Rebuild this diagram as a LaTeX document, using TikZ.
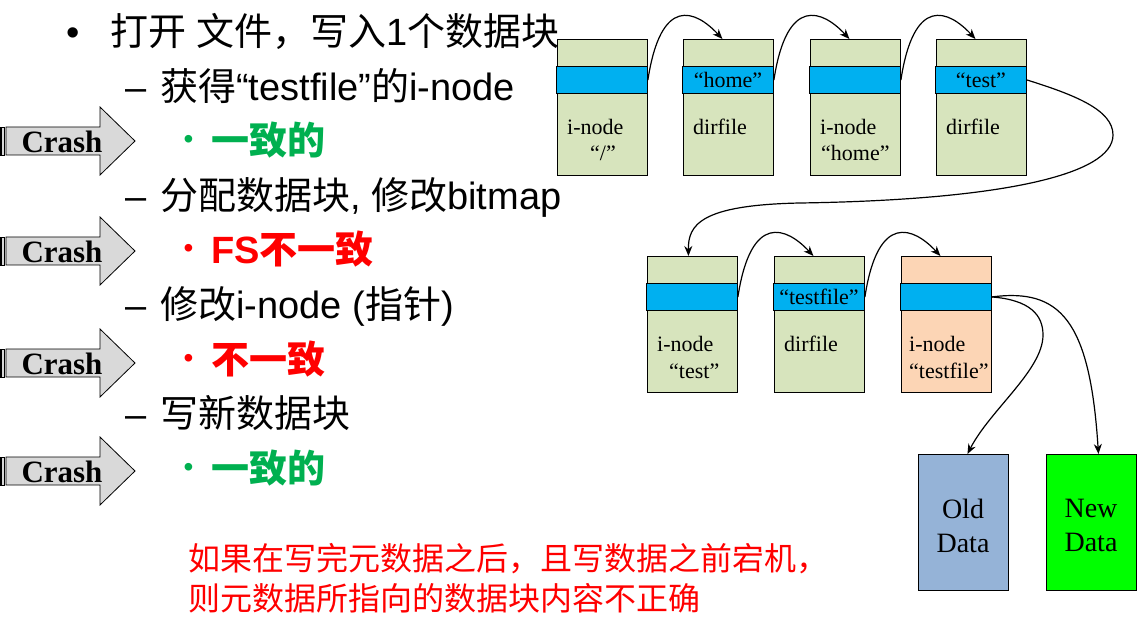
\documentclass[tikz,border=0pt]{standalone}
\usepackage{fontspec}
\setmainfont{Liberation Sans}
\newfontfamily\cjk{Noto Sans CJK SC}
\newfontfamily\tms{Liberation Serif}
\usetikzlibrary{arrows.meta}
\definecolor{blockgreen}{HTML}{D7E4BD}
\definecolor{stripblue}{HTML}{00B0F0}
\definecolor{inodeorange}{HTML}{FCD5B5}
\definecolor{olddata}{HTML}{95B3D7}
\definecolor{newdata}{HTML}{00FF00}
\definecolor{okgreen}{HTML}{00B050}
\definecolor{badred}{HTML}{FF0000}
\definecolor{crashgray}{HTML}{D9D9D9}
\begin{document}
\begin{tikzpicture}[x=1pt,y=-1pt,
  txt/.style={anchor=base west, inner sep=0pt, font=\fontsize{38}{44}\selectfont},
  smallbullet/.style={anchor=base west, inner sep=0pt, font=\fontsize{28}{30}\selectfont},
  blk/.style={draw=black, line width=0.9pt, fill=blockgreen, minimum width=90pt, minimum height=136pt, inner sep=0pt, anchor=north west},
  strip/.style={draw=black, line width=0.9pt, fill=stripblue, minimum width=91pt, minimum height=27pt, inner sep=0pt, anchor=north west, font=\tms\fontsize{22}{26}\selectfont},
  blbl/.style={anchor=base west, inner sep=0pt, font=\tms\fontsize{22}{26}\selectfont},
  datablk/.style={draw=black, line width=0.9pt, minimum width=90pt, minimum height=136pt, inner sep=0pt, anchor=north west},
  datalbl/.style={align=center, inner sep=0pt, font=\tms\fontsize{28}{34}\selectfont},
  conn/.style={line width=1.2pt, -{Stealth[length=10pt,width=8pt]}},
  crashbody/.style={fill=crashgray, draw=black, line width=0.8pt},
  crashtxt/.style={inner sep=0pt, font=\tms\bfseries\fontsize{31}{34}\selectfont},
  redtxt/.style={anchor=base west, inner sep=0pt, text=badred, font=\cjk\fontsize{32}{40}\selectfont}
]
\useasboundingbox (0,0) rectangle (1143,620);

% ---------- Crash arrows ----------
\foreach \c/\n in {141/1,251/2,363/3,471/4}{
  \path[crashbody] (-3,{\c-14}) rectangle (0,{\c+14});
  \path[crashbody] (1.5,{\c-14}) rectangle (4.5,{\c+14});
  \path[crashbody] (6,{\c-14}) -- (100,{\c-14}) -- (100,{\c-34}) -- (135,\c)
     -- (100,{\c+34}) -- (100,{\c+14}) -- (6,{\c+14}) -- cycle;
  \node[crashtxt] (crash\n) at (62,{\c+1}) {Crash};
}

% ---------- Left text ----------
\node[txt] (bu1) at (66.5,46) {•};
\node[txt] (t1) at (110,46) {{\cjk 打开} {\cjk 文件，写入}1{\cjk 个数据块}};

\node[txt] (d2) at (125,100.5) {–};
\node[txt] (t2) at (160,100.5) {{\cjk 获得}“testfile”{\cjk 的}i-node};

\node[smallbullet, text=okgreen] (bu3) at (183.4,149) {•};
\node[txt, text=okgreen] (t3) at (211,155) {{\cjk\bfseries 一致的}};

\node[txt] (d4) at (125,209.5) {–};
\node[txt] (t4) at (160,209.5) {{\cjk 分配数据块}, {\cjk 修改}bitmap};

\node[smallbullet, text=badred] (bu5) at (183.4,258) {•};
\node[txt, text=badred] (t5) at (211,264) {{\bfseries FS}{\cjk\bfseries 不一致}};

\node[txt] (d6) at (125,318.5) {–};
\node[txt] (t6) at (160,318.5) {{\cjk 修改}i-node ({\cjk 指针})};

\node[smallbullet, text=badred] (bu7) at (183.4,367) {•};
\node[txt, text=badred] (t7) at (211,373) {{\cjk\bfseries 不一致}};

\node[txt] (d8) at (125,427.5) {–};
\node[txt] (t8) at (160,427.5) {{\cjk 写新数据块}};

\node[smallbullet, text=okgreen] (bu9) at (183.4,476) {•};
\node[txt, text=okgreen] (t9) at (211,482) {{\cjk\bfseries 一致的}};

% ---------- Bottom red note ----------
\node[redtxt] (r1) at (188,570) {如果在写完元数据之后，且写数据之前宕机，};
\node[redtxt] (r2) at (188,610) {则元数据所指向的数据块内容不正确};

% ---------- Top row blocks ----------
\node[blk] (b1) at (557,39) {};
\node[blk] (b2) at (683,39) {};
\node[blk] (b3) at (810,39) {};
\node[blk] (b4) at (936,39) {};
\node[strip] (s1) at (556,66) {};
\node[strip] (s2) at (682,66) {“home”};
\node[strip] (s3) at (809,66) {};
\node[strip] (s4) at (935,66) {“test”};
\node[blbl] (l1a) at (567,135) {i-node};
\node[blbl] (l1b) at (590,161) {“/”};
\node[blbl] (l2a) at (693,135) {dirfile};
\node[blbl] (l3a) at (820,135) {i-node};
\node[blbl] (l3b) at (821,161) {“home”};
\node[blbl] (l4a) at (946,135) {dirfile};

% ---------- Middle row blocks ----------
\node[blk] (bA) at (647,256) {};
\node[blk] (bB) at (774,256) {};
\node[blk, fill=inodeorange] (bC) at (901,256) {};
\node[strip] (sA) at (646,283) {};
\node[strip] (sB) at (773,283) {“testfile”};
\node[strip] (sC) at (900,283) {};
\node[blbl] (lAa) at (657,352) {i-node};
\node[blbl] (lAb) at (669,378) {“test”};
\node[blbl] (lBa) at (784,352) {dirfile};
\node[blbl] (lCa) at (909,352) {i-node};
\node[blbl] (lCb) at (909,378) {“testfile”};

% ---------- Data blocks ----------
\node[datablk, fill=olddata] (od) at (918,454) {};
\node[datablk, fill=newdata] (nd) at (1046,454) {};
\node[datalbl] (odl) at (963,525.5) {Old\\Data};
\node[datalbl] (ndl) at (1091,525.5) {New\\Data};

% ---------- Connectors ----------
\draw[conn] (s1.east) .. controls +(13,-85) and +(-27,-29) .. ([xshift=-6pt]b2.north);
\draw[conn] (s2.east) .. controls +(13,-85) and +(-27,-29) .. ([xshift=-6pt]b3.north);
\draw[conn] (s3.east) .. controls +(13,-85) and +(-27,-29) .. ([xshift=-6pt]b4.north);
\draw[conn] (s4.east) .. controls (1075,95) and (1113,110) .. (1113,135)
   .. controls (1113,175) and (1000,200) .. (800,203)
   .. controls (700,205) and (688,225) .. ([xshift=-4pt]bA.north);
\draw[conn] (sA.east) .. controls +(13,-85) and +(-27,-29) .. ([xshift=-6pt]bB.north);
\draw[conn] (sB.east) .. controls +(13,-85) and +(-27,-29) .. ([xshift=-6pt]bC.north);
\draw[conn] (sC.east) .. controls (1030,300) and (1043,315) .. (1043,335)
   .. controls (1043,370) and (990,410) .. ([xshift=4pt]od.north);
\draw[conn] (sC.east) .. controls (1060,288) and (1090,320) .. ([xshift=7pt]nd.north);
\end{tikzpicture}
\end{document}
